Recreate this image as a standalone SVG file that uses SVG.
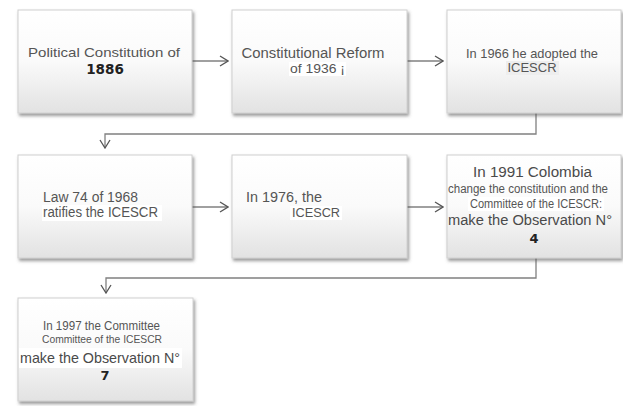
<svg xmlns="http://www.w3.org/2000/svg" width="623" height="406" viewBox="0 0 623 406">
<defs>
<linearGradient id="g" x1="0" y1="0" x2="0" y2="1">
<stop offset="0" stop-color="#ffffff"/>
<stop offset="0.5" stop-color="#fafafa"/>
<stop offset="1" stop-color="#e2e2e2"/>
</linearGradient>
<filter id="sh" x="-10%" y="-10%" width="120%" height="125%">
<feDropShadow dx="1.5" dy="2.5" stdDeviation="1.5" flood-color="#555" flood-opacity="0.6"/>
</filter>
<marker id="ah" viewBox="0 0 10 12" refX="9" refY="6" markerWidth="10" markerHeight="12" markerUnits="userSpaceOnUse" orient="auto">
<path d="M1,1 L9,6 L1,11" fill="none" stroke="#555" stroke-width="1.3"/>
</marker>
<style>
.box{fill:url(#g);stroke:#d0d0d0;stroke-width:1;filter:url(#sh)}
.t{font-family:"Liberation Sans",Arial,sans-serif;fill:#555}
.b{font-family:"DejaVu Sans","Noto Sans",sans-serif;font-weight:bold;fill:#222}
.w{font-family:"Liberation Sans",Arial,sans-serif;fill:#4a4a4a}
.c{fill:none;stroke:#808080;stroke-width:1.3}
.hl{fill:#ffffff}
.hg{fill:#eeeeee}
</style>
</defs>
<rect width="623" height="406" fill="#ffffff"/>
<g id="connectors">
<path class="c" d="M192,61 H228" marker-end="url(#ah)"/>
<path class="c" d="M407,61 H443" marker-end="url(#ah)"/>
<path class="c" d="M536,113 V134 H105 V148" marker-end="url(#ah)"/>
<path class="c" d="M192,207 H228" marker-end="url(#ah)"/>
<path class="c" d="M407,207 H443" marker-end="url(#ah)"/>
<path class="c" d="M536,258 V278 H106 V293" marker-end="url(#ah)"/>
</g>
<g id="n1">
<rect class="box" x="18" y="10" width="174" height="103"/>
<text class="t" x="104" y="57" font-size="13.5" text-anchor="middle" textLength="152" lengthAdjust="spacingAndGlyphs">Political Constitution of</text>
<text class="b" x="105" y="74" font-size="13.5" text-anchor="middle">1886</text>
</g>
<g id="n2">
<rect class="box" x="232" y="10" width="175" height="103"/>
<text class="t" x="313" y="58" font-size="14" text-anchor="middle" textLength="143" lengthAdjust="spacingAndGlyphs">Constitutional Reform</text>
<rect class="hl" x="289" y="62" width="57" height="14"/>
<text class="t" x="290" y="73" font-size="13" textLength="55" lengthAdjust="spacingAndGlyphs">of 1936 ¡</text>
</g>
<g id="n3">
<rect class="box" x="447" y="10" width="174" height="103"/>
<text class="t" x="532" y="58" font-size="13.5" text-anchor="middle" textLength="132" lengthAdjust="spacingAndGlyphs">In 1966 he adopted the</text>
<rect class="hg" x="506" y="61" width="53" height="14"/>
<text class="t" x="532" y="72" font-size="12" text-anchor="middle" textLength="49" lengthAdjust="spacingAndGlyphs">ICESCR</text>
</g>
<g id="n4">
<rect class="box" x="18" y="155" width="174" height="103"/>
<rect class="hl" x="42" y="205" width="120" height="16"/>
<text class="t" x="43" y="202" font-size="14" textLength="95" lengthAdjust="spacingAndGlyphs">Law 74 of 1968</text>
<text class="t" x="43" y="217" font-size="14" textLength="115" lengthAdjust="spacingAndGlyphs">ratifies the ICESCR</text>
</g>
<g id="n5">
<rect class="box" x="232" y="155" width="175" height="103"/>
<text class="t" x="246" y="202" font-size="14" textLength="76" lengthAdjust="spacingAndGlyphs">In 1976, the</text>
<rect class="hl" x="290" y="206" width="52" height="14"/>
<text class="t" x="292" y="217" font-size="12" textLength="48" lengthAdjust="spacingAndGlyphs">ICESCR</text>
</g>
<g id="n6">
<rect class="box" x="447" y="155" width="174" height="103"/>
<text class="w" x="473" y="177" font-size="14" textLength="119" lengthAdjust="spacingAndGlyphs">In 1991 Colombia</text>
<text class="t" x="448" y="193" font-size="12.5" textLength="160" lengthAdjust="spacingAndGlyphs">change the constitution and the</text>
<rect class="hl" x="468" y="197" width="136" height="14"/>
<text class="t" x="470" y="208" font-size="12.5" textLength="132" lengthAdjust="spacingAndGlyphs">Committee of the ICESCR:</text>
<text class="w" x="448" y="225" font-size="14" textLength="164" lengthAdjust="spacingAndGlyphs">make the Observation N°</text>
<text class="b" x="534" y="243" font-size="13" text-anchor="middle">4</text>
</g>
<g id="n7">
<rect class="box" x="18" y="298" width="175" height="103"/>
<text class="t" x="43" y="330" font-size="13.5" textLength="117" lengthAdjust="spacingAndGlyphs">In 1997 the Committee</text>
<text class="t" x="42" y="343" font-size="11.5" textLength="120" lengthAdjust="spacingAndGlyphs">Committee of the ICESCR</text>
<rect class="hl" x="19" y="348" width="163" height="20"/>
<text class="w" x="20" y="363" font-size="15" textLength="160" lengthAdjust="spacingAndGlyphs">make the Observation N°</text>
<text class="b" x="105" y="380" font-size="13" text-anchor="middle">7</text>
</g>
</svg>
